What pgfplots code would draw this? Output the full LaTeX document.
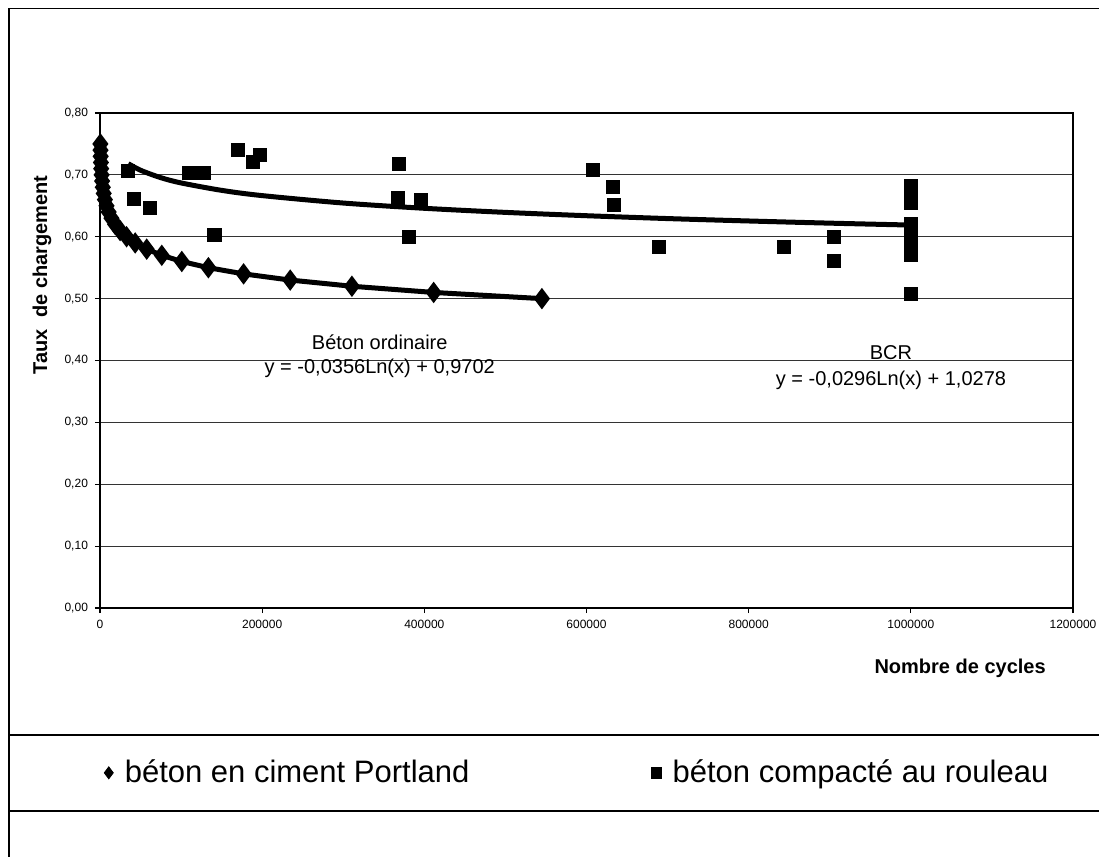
\documentclass[border=0pt]{standalone}
\usepackage{fontspec}
\setmainfont{Liberation Sans}
\usepackage{pgfplots}
\pgfplotsset{compat=1.18}
\begin{document}
\begin{tikzpicture}
\useasboundingbox (0,0) rectangle (549.5pt,-428.5pt);
\draw[line width=0.75pt] (4.5pt,-428.5pt) -- (4.5pt,-4.2pt) -- (549.5pt,-4.2pt);
\draw[line width=0.6pt] (4.5pt,-367.5pt) -- (549.5pt,-367.5pt);
\draw[line width=0.6pt] (4.5pt,-405.5pt) -- (549.5pt,-405.5pt);
\begin{axis}[
  at={(50pt,-304pt)}, anchor=south west,
  scale only axis, width=486.5pt, height=247.5pt,
  xmin=0, xmax=1200000, ymin=0, ymax=0.8,
  xtick={0,200000,400000,600000,800000,1000000,1200000},
  xticklabels={0,200000,400000,600000,800000,1000000,1200000},
  ytick={0,0.1,0.2,0.3,0.4,0.5,0.6,0.7,0.8},
  yticklabel style={/pgf/number format/.cd,fixed,fixed zerofill,precision=2,use comma,assume math mode=true},
  scaled x ticks=false, scaled y ticks=false,
  ticklabel style={font=\fontsize{6}{7}\selectfont},
  tick pos=left, tick align=outside, major tick length=2.5pt,
  tick style={black, line width=0.6pt},
  ymajorgrids, grid style={black!80, line width=0.5pt},
  axis line style={line width=0.8pt},
  xlabel={\bfseries Nombre de cycles},
  ylabel={\bfseries Taux\ \ de chargement},
  label style={font=\fontsize{10}{12}\selectfont},
  xlabel style={at={(axis description cs:0.884,-0.121)}, anchor=center},
  ylabel style={at={(axis description cs:-0.0596,0.673)}, anchor=center},
  clip=false,
  legend columns=2,
  legend style={at={(axis description cs:0.004,-0.333)}, anchor=west, draw=none, fill=none,
    inner sep=0pt, font=\fontsize{15.5}{18}\selectfont,
    /tikz/every even column/.append style={column sep=89pt}},
  legend cell align=left,
  legend image code/.code={\draw[#1] plot coordinates {(0pt,0pt)}; \path[draw=none,fill=none] (6pt,0pt);},
]
\addlegendimage{only marks, mark=diamond*, mark size=3pt, black}
\addlegendentry{béton en ciment Portland}
\addlegendimage{only marks, mark=square*, mark size=2.6pt, black}
\addlegendentry{béton compacté au rouleau}

% BCR trend line
\addplot[forget plot, black, line width=2.5pt, smooth] coordinates {
(34900,0.7181)(50000,0.7075)(75000,0.6955)(100000,0.6870)(150000,0.6750)
(200000,0.6665)(300000,0.6545)(400000,0.6460)(500000,0.6394)(600000,0.6340)
(700000,0.6294)(800000,0.6255)(900000,0.6220)(1000000,0.6189)};

% Portland concrete: points with trend line
\addplot[forget plot, black, line width=2.5pt, mark=diamond*, mark size=3.3pt, mark options={solid}] coordinates {
(484,0.75)(641,0.74)(849,0.73)(1124,0.72)(1490,0.71)(1970,0.70)(2610,0.69)
(3460,0.68)(4580,0.67)(6070,0.66)(8040,0.65)(10650,0.64)(14100,0.63)(18700,0.62)
(24800,0.61)(32800,0.60)(43400,0.59)(57600,0.58)(76200,0.57)(100900,0.56)
(133700,0.55)(177100,0.54)(234600,0.53)(310700,0.52)(411500,0.51)(545000,0.50)};

% BCR points
\addplot[forget plot, only marks, black, mark=square*, mark size=3.3pt] coordinates {
(34900,0.706)(41900,0.661)(61700,0.647)(109700,0.703)(119600,0.703)(128200,0.703)
(141000,0.603)(170500,0.741)(189000,0.721)(197300,0.732)(368700,0.718)(367100,0.663)
(395800,0.660)(381400,0.600)(607500,0.708)(632100,0.681)(633800,0.652)(688900,0.583)
(843400,0.583)(905100,0.600)(905100,0.561)(1000000,0.682)(1000000,0.670)(1000000,0.655)
(1000000,0.621)(1000000,0.610)(1000000,0.600)(1000000,0.590)(1000000,0.580)(1000000,0.571)
(1000000,0.508)};

\node[font=\fontsize{10}{12}\selectfont, anchor=center] at (axis cs:345000,0.4297) {Béton ordinaire};
\node[font=\fontsize{10}{12}\selectfont, anchor=center] at (axis cs:345000,0.388) {y = -0,0356Ln(x) + 0,9702};
\node[font=\fontsize{10}{12}\selectfont, anchor=center] at (axis cs:975500,0.412) {BCR};
\node[font=\fontsize{10}{12}\selectfont, anchor=center] at (axis cs:975500,0.368) {y = -0,0296Ln(x) + 1,0278};
\end{axis}
\end{tikzpicture}
\end{document}
